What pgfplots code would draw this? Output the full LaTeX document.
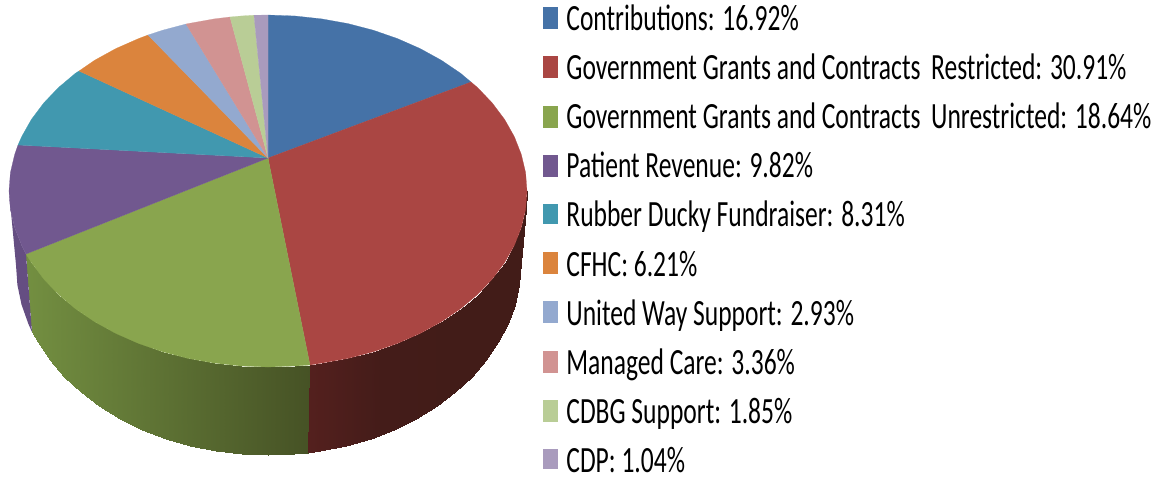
\documentclass[border=0pt]{standalone}
\usepackage{fontspec}
\setmainfont{Carlito}
\usepackage{pgfplots}
\pgfplotsset{compat=1.18}
\definecolor{c1}{HTML}{4572A7}
\definecolor{c2}{HTML}{AA4643}
\definecolor{c3}{HTML}{89A54E}
\definecolor{c4}{HTML}{71588F}
\definecolor{c5}{HTML}{4198AF}
\definecolor{c6}{HTML}{DB843D}
\definecolor{c7}{HTML}{93A9CF}
\definecolor{c8}{HTML}{D19392}
\definecolor{c9}{HTML}{B9CD96}
\definecolor{c10}{HTML}{A99BBD}
\pgfplotsset{
  wedge/.style={fill=#1, draw=#1, line width=0.1pt},
  key/.style={fill=#1, draw=none},
  side/.style={surf, shader=interp, point meta=x, mesh/cols=15, mesh/ordering=x varies},
}
\newcommand{\leg}[2]{\node[anchor=base west, inner sep=0pt] at (axis cs:566,#1)
  {\scalebox{0.69}[1]{\fontsize{18.5}{18.5}\selectfont #2}};}

\begin{document}
\begin{tikzpicture}
\begin{axis}[
  scale only axis, width=582.5pt, height=239pt,
  xmin=0, xmax=1165, ymin=0, ymax=478, y dir=reverse,
  hide axis, clip=false, point meta rel=per plot,
]
% keep the whole frame in the page
\path (axis cs:0,0) rectangle (axis cs:1165,478);
% sides of the cake, top edge then bottom edge
\addplot[side, colormap={gside}{rgb255=(115,143,65) rgb255=(70,82,37)}] coordinates {
  (26,254) (31.4,262.6) (43.7,279) (58.5,294.5) (75.5,308.8) (94.7,321.8) (115.8,333.4) (138.5,343.4)
  (162.7,351.8) (188,358.4) (214.2,363.1) (240.9,366) (268,367) (295.1,366) (310,365)
  (32,332) (37.8,342.3) (49.8,360) (64.1,376.7) (80.7,392.1) (99.4,406.2) (119.9,418.7) (142,429.5)
  (165.5,438.6) (190.1,445.7) (215.6,450.8) (241.7,454) (268,455) (294.3,454) (308,452.5)
};
\addplot[side, colormap={rside}{rgb255=(84,32,30) rgb255=(68,28,25) rgb255=(66,28,24) rgb255=(66,28,24)}] coordinates {
  (310,365) (321.8,363.1) (348,358.4) (373.3,351.8) (397.5,343.4) (420.2,333.4) (441.3,321.8) (460.5,308.8)
  (477.5,294.5) (492.3,279) (504.6,262.6) (514.3,245.4) (521.3,227.6) (525.6,209.4) (527,191)
  (308,452.5) (320.4,450.8) (345.9,445.7) (370.5,438.6) (394,429.5) (416.1,418.7) (436.6,406.2) (455.3,392.1)
  (471.9,376.7) (486.2,360) (498.2,342.3) (507.7,323.7) (514.5,304.5) (518.6,284.9) (520,265)
};
\addplot[fill={rgb,255:red,101;green,78;blue,130}, draw=none] coordinates {
  (9,191) (10.4,209.4) (14.7,227.6) (21.7,245.4) (26,254) (32,332) (28.3,323.7) (21.5,304.5) (17.4,284.9) (16,265)
} -- cycle;
% top face, one wedge per category
\addplot[wedge=c1] coordinates {(268,158) (268,15) (295.1,16) (321.8,18.9) (348,23.6) (373.3,30.2) (397.5,38.6)
  (420.2,48.6) (441.3,60.2) (460.5,73.2) (471,82)} -- cycle;
\addplot[wedge=c2] coordinates {(268,158) (471,82) (477.5,87.5) (492.3,103) (504.6,119.4) (514.3,136.6) (521.3,154.4)
  (525.6,172.6) (527,191) (525.6,209.4) (521.3,227.6) (514.3,245.4) (504.6,262.6) (492.3,279) (477.5,294.5)
  (460.5,308.8) (441.3,321.8) (420.2,333.4) (397.5,343.4) (373.3,351.8) (348,358.4) (321.8,363.1) (310,365)} -- cycle;
\addplot[wedge=c3] coordinates {(268,158) (310,365) (295.1,366) (268,367) (240.9,366) (214.2,363.1) (188,358.4)
  (162.7,351.8) (138.5,343.4) (115.8,333.4) (94.7,321.8) (75.5,308.8) (58.5,294.5) (43.7,279) (31.4,262.6) (26,254)} -- cycle;
\addplot[wedge=c4] coordinates {(268,158) (26,254) (21.7,245.4) (14.7,227.6) (10.4,209.4) (9,191) (10.4,172.6)
  (14.7,154.4) (18,145)} -- cycle;
\addplot[wedge=c5] coordinates {(268,158) (18,145) (21.7,136.6) (31.4,119.4) (43.7,103) (58.5,87.5) (75.5,73.2) (79,71)} -- cycle;
\addplot[wedge=c6] coordinates {(268,158) (79,71) (94.7,60.2) (115.8,48.6) (138.5,38.6) (148,35)} -- cycle;
\addplot[wedge=c7] coordinates {(268,158) (148,35) (162.7,30.2) (186,24)} -- cycle;
\addplot[wedge=c8] coordinates {(268,158) (186,24) (188,23.6) (214.2,18.9) (230,17)} -- cycle;
\addplot[wedge=c9] coordinates {(268,158) (230,17) (240.9,16) (254,15.2)} -- cycle;
\addplot[wedge=c10] coordinates {(268,158) (254,15.2) (268,15)} -- cycle;
% legend keys
\addplot[key=c1] coordinates {(543,7) (558,7) (558,29) (543,29)} -- cycle;
\addplot[key=c2] coordinates {(543,56) (558,56) (558,78) (543,78)} -- cycle;
\addplot[key=c3] coordinates {(543,106) (558,106) (558,128) (543,128)} -- cycle;
\addplot[key=c4] coordinates {(543,155) (558,155) (558,177) (543,177)} -- cycle;
\addplot[key=c5] coordinates {(543,204) (558,204) (558,224) (543,224)} -- cycle;
\addplot[key=c6] coordinates {(543,252) (558,252) (558,274) (543,274)} -- cycle;
\addplot[key=c7] coordinates {(543,301) (558,301) (558,323) (543,323)} -- cycle;
\addplot[key=c8] coordinates {(543,351) (558,351) (558,373) (543,373)} -- cycle;
\addplot[key=c9] coordinates {(543,400) (558,400) (558,422) (543,422)} -- cycle;
\addplot[key=c10] coordinates {(543,449) (558,449) (558,469) (543,469)} -- cycle;
\leg{30.5}{Contributions: 16.92\%}
\leg{79.5}{Government Grants and Contracts\hspace{.19em} Restricted: 30.91\%}
\leg{128.5}{Government Grants and Contracts\hspace{.19em} Unrestricted: 18.64\%}
\leg{177.5}{Patient Revenue: 9.82\%}
\leg{226.5}{Rubber Ducky Fundraiser: 8.31\%}
\leg{276.5}{CFHC: 6.21\%}
\leg{325.5}{United Way Support: 2.93\%}
\leg{374.5}{Managed Care: 3.36\%}
\leg{423.5}{CDBG Support: 1.85\%}
\leg{472.5}{CDP: 1.04\%}
\end{axis}
\end{tikzpicture}
\end{document}
